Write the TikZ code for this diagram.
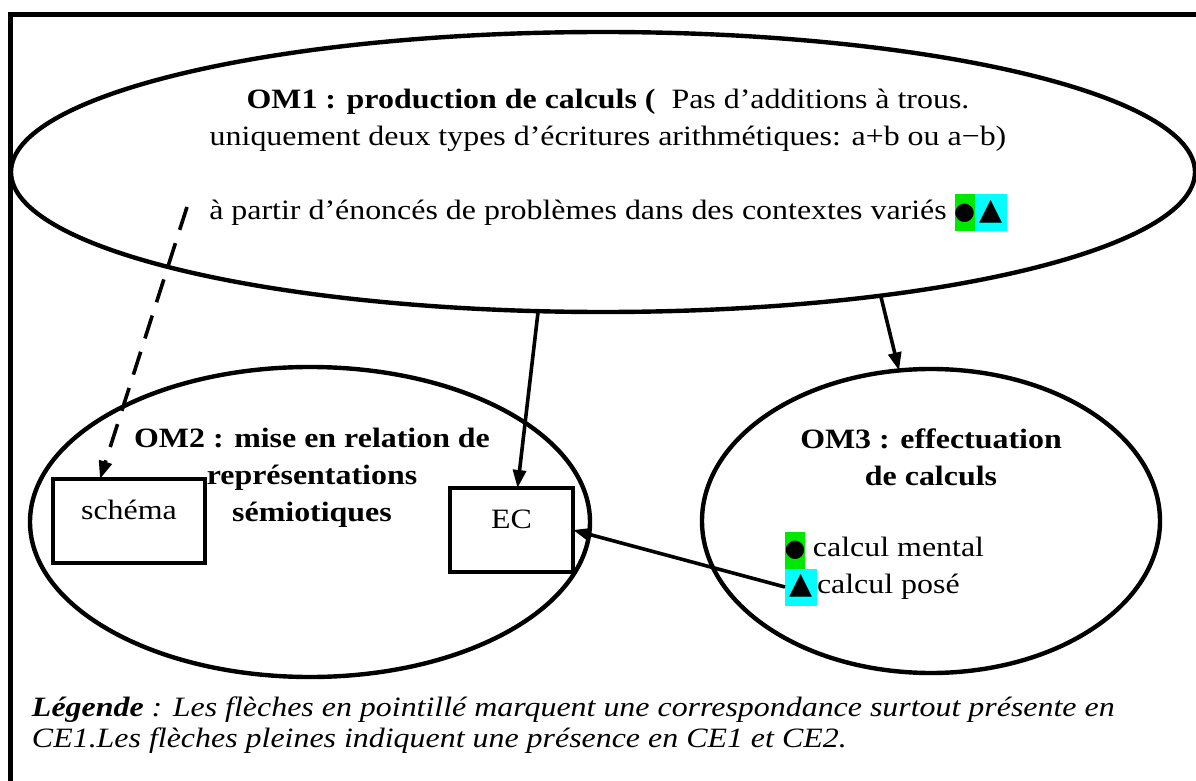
\documentclass[tikz,border=0pt]{standalone}
\usepackage{fontspec}
\setmainfont{Liberation Serif}[FakeStretch=1.14]
\newfontfamily\symfont{DejaVu Sans}
\usepackage{tikz}
\usetikzlibrary{arrows.meta,positioning,shapes.geometric}
\definecolor{cVert}{HTML}{00E800}
\definecolor{cCyan}{HTML}{00FFFF}
\newcommand\fsz{\fontsize{14}{18.5}\selectfont}
\newcommand\mrk[3]{{\setlength{\fboxsep}{0pt}\colorbox{#1}{\makebox[#2]{\rule[-6pt]{0pt}{18.5pt}#3}}}}
\newcommand\mkrond{\mrk{cVert}{10pt}{\symfont\fontsize{12}{12}\selectfont ●}}
\newcommand\mktri{\mrk{cCyan}{16pt}{\symfont\fontsize{15}{15}\selectfont ▲}}
\tikzset{
  om/.style  ={draw,ellipse,line width=2.2pt},
  rep/.style ={draw,line width=2.2pt,font=\fsz,minimum height=42pt,
               text height=10pt,text depth=12pt},
  txt/.style ={align=center,inner sep=0pt,font=\fsz},
  ttl/.style ={txt,font=\fsz\bfseries},
  fl/.style  ={-{Triangle[length=9pt,width=6.5pt]},line width=1.8pt},
  flp/.style ={fl,dash pattern=on 12pt off 7pt},
}

\begin{document}
\begin{tikzpicture}[x=0.5pt,y=-0.5pt,every node/.style={outer sep=0pt}]
\useasboundingbox (0,0) rectangle (1196,781);
\clip (0,0) rectangle (1196,781);
\draw[line width=2.5pt] (10.5,800) -- (10.5,15) -- (1220,15);

% ---- organisations mathematiques ------------------------------------------
\node[om,minimum width=592pt,minimum height=140pt] (om1) at (603,172) {};
\node[om,minimum width=280pt,minimum height=155pt] (om2) at (310,522) {};
\node[om,minimum width=229pt,minimum height=152pt] (om3) at (931,521) {};

\node[txt] (t1) at (608,160)
  {\textbf{OM1 : production de calculs (}\ \ Pas d’additions à trous.\\
   uniquement deux types d’écritures arithmétiques: a+b ou a−b)\\[18.5pt]
   à partir d’énoncés de problèmes dans des contextes variés \mkrond\mktri};
\node[ttl] (t2) at (312,478) {OM2 : mise en relation de\\représentations\\sémiotiques};
\node[ttl] (t3) at (931,457) {OM3 : effectuation\\de calculs};

% ---- representations et techniques ----------------------------------------
\node[rep,minimum width=76pt] (schema) at (129,521) {schéma};
\node[rep,minimum width=61.5pt] (ec) at (511.5,530) {EC};
\node[txt,anchor=west] (ment) at (785,550) {\mkrond\ calcul mental};
\node[txt,anchor=west] (pose) at (785,587) {\mktri calcul posé};

\node[txt,align=left,anchor=west,font=\fontsize{14}{15.2}\selectfont\itshape] (leg) at (32,725)
  {\textbf{Légende} : Les flèches en pointillé marquent une correspondance surtout présente en\\
   CE1.Les flèches pleines indiquent une présence en CE1 et CE2.};

% ---- fleches ---------------------------------------------------------------
\coordinate (dsrc) at (187,207);
\draw[flp] (dsrc) -- ([xshift=-14.5pt]schema.north);
\draw[fl] (om1.245) -- ([xshift=3pt]ec.north);
\draw[fl] (om1.336) -- (om3.102);
\draw[fl] (pose.west) -- (ec.east);
\end{tikzpicture}
\end{document}
